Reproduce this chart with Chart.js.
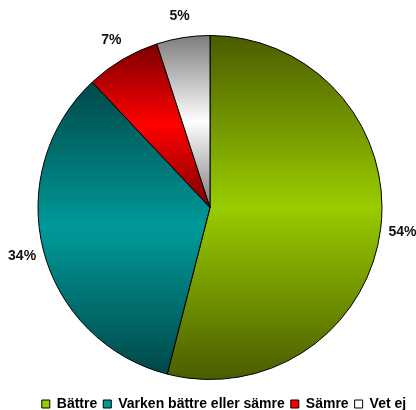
<!DOCTYPE html>
<html>
<head>
<meta charset="utf-8">
<script src="https://cdn.jsdelivr.net/npm/chart.js@4/dist/chart.umd.min.js"></script>
<style>
  html, body { margin: 0; padding: 0; background: #fff; }
  #wrap { width: 416px; height: 410px; }
</style>
</head>
<body>
<div id="wrap"><canvas id="pie" width="416" height="410"></canvas></div>
<script>
const labels = ['Bättre', 'Varken bättre eller sämre', 'Sämre', 'Vet ej'];
const values = [54, 34, 7, 5];
const lightColors = ['#99cc00', '#009999', '#ff0000', '#ffffff'];
const darkColors = ['#4a5c00', '#004848', '#7a0000', '#7c7c7c'];

const FONT = '"Liberation Sans", Arial, sans-serif';

// vertical extent of one slice, angles measured clockwise from the top
function sliceBounds(cy, r, a0, a1) {
    const ys = [cy, cy - r * Math.cos(a0), cy - r * Math.cos(a1)];
    if (a0 <= 0 || a1 >= 2 * Math.PI) ys.push(cy - r);
    if (a0 <= Math.PI && a1 >= Math.PI) ys.push(cy + r);
    return [Math.min(...ys), Math.max(...ys)];
}

function sliceFill(ctx) {
    const chart = ctx.chart;
    const area = chart.chartArea;
    const i = ctx.dataIndex;
    if (!area) return lightColors[i];
    const cy = (area.top + area.bottom) / 2;
    const r = Math.min(area.width, area.height) / 2;
    const total = values.reduce((a, b) => a + b, 0);
    let before = 0;
    for (let k = 0; k < i; k++) before += values[k];
    const a0 = before / total * 2 * Math.PI;
    const a1 = (before + values[i]) / total * 2 * Math.PI;
    const [y0, y1] = sliceBounds(cy, r, a0, a1);
    const g = chart.ctx.createLinearGradient(0, y0, 0, y1);
    g.addColorStop(0, darkColors[i]);
    g.addColorStop(0.5, lightColors[i]);
    g.addColorStop(1, darkColors[i]);
    return g;
}

const outsideLabels = {
    id: 'outsideLabels',
    afterDatasetsDraw(chart) {
        const c = chart.ctx;
        const meta = chart.getDatasetMeta(0);
        c.save();
        c.font = 'bold 14px ' + FONT;
        c.fillStyle = '#111';
        c.textAlign = 'center';
        c.textBaseline = 'middle';
        meta.data.forEach((arc, i) => {
            const mid = (arc.startAngle + arc.endAngle) / 2;
            const d = arc.outerRadius + 22;
            c.fillText(values[i] + '%', arc.x + Math.cos(mid) * d, arc.y + Math.sin(mid) * d);
        });
        c.restore();
    }
};

// the legend sits a bit lower and right of centre in the original
const legendNudge = {
    id: 'legendNudge',
    afterLayout(chart) {
        const lg = chart.legend;
        lg.top += 11; lg.bottom += 11;
        lg.left += 14; lg.right += 14;
    }
};

new Chart(document.getElementById('pie'), {
    type: 'pie',
    data: {
        labels: labels,
        datasets: [{
            data: values,
            backgroundColor: sliceFill,
            borderColor: '#000',
            borderWidth: 1
        }]
    },
    options: {
        responsive: false,
        animation: false,
        layout: { padding: { top: 35, left: 4, right: 0, bottom: 0 } },
        plugins: {
            tooltip: { enabled: false },
            legend: {
                position: 'bottom',
                labels: {
                    boxWidth: 8,
                    boxHeight: 8,
                    padding: 6,
                    color: '#111',
                    font: { family: FONT, size: 14, weight: 'bold' },
                    generateLabels: (chart) => labels.map((l, i) => ({
                        text: l,
                        fillStyle: lightColors[i],
                        strokeStyle: '#000',
                        lineWidth: 1,
                        index: i
                    }))
                }
            }
        }
    },
    plugins: [outsideLabels, legendNudge]
});
</script>
</body>
</html>
